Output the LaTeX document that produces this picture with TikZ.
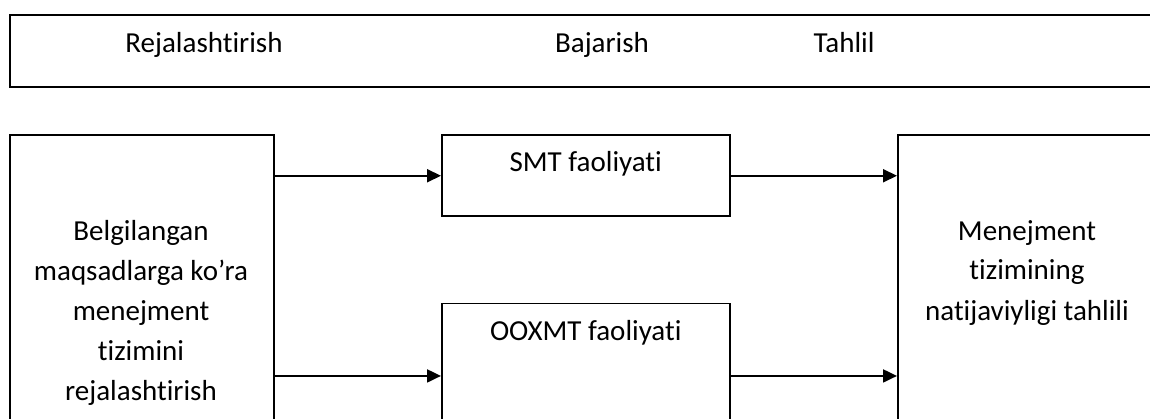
\documentclass[tikz,border=0pt]{standalone}
\usepackage{fontspec}
\setmainfont{Carlito}[Ligatures={NoCommon}]
\usetikzlibrary{arrows.meta,positioning}
\tikzset{
  box/.style={draw, line width=1.5pt, anchor=north west, inner sep=0pt},
  txt/.style={font=\fontsize{29}{40}\selectfont, align=center, inner sep=0pt, anchor=base},
  arr/.style={line width=2pt, -{Triangle[length=14pt,width=13pt]}}
}
\begin{document}
\begin{tikzpicture}[x=1pt,y=-1pt]
  \useasboundingbox (0,0) rectangle (1150,419);
  \clip (0,0) rectangle (1150,419);
  \node[box, minimum width=1160pt, minimum height=72pt] (bar) at (9,14.5) {};
  \node[txt] (tplan) at (204,53) {Rejalashtirish};
  \node[txt] (tdo) at (602,53) {Bajarish};
  \node[txt] (tcheck) at (844,53) {Tahlil};
  \node[box, minimum width=264pt, minimum height=350pt] (plan) at (9,134.5) {};
  \node[box, minimum width=288pt, minimum height=81pt] (smt) at (441,134.5) {};
  \node[box, minimum width=288pt, minimum height=145pt] (ooxmt) at (441,302.7) {};
  \node[box, minimum width=260pt, minimum height=285pt] (res) at (897,134.5) {};
  \node[txt] (planT) at (141,400) {Belgilangan\\maqsadlarga ko’ra\\menejment\\tizimini\\rejalashtirish};
  \node[txt] (smtT) at ([yshift=-37.5pt]smt.north) {SMT faoliyati};
  \node[txt] (ooxmtT) at ([yshift=-37.5pt]ooxmt.north) {OOXMT faoliyati};
  \node[txt] (resT) at (1027,320) {Menejment\\tizimining\\natijaviyligi tahlili};
  \begin{scope}[arr]
    \draw (plan.east |- smt.west) to (smt.west);
    \draw (smt.east) to (res.west |- smt.east);
    \draw (plan.east |- ooxmt.west) to (ooxmt.west);
    \draw (ooxmt.east) to (res.west |- ooxmt.east);
  \end{scope}
\end{tikzpicture}
\end{document}
